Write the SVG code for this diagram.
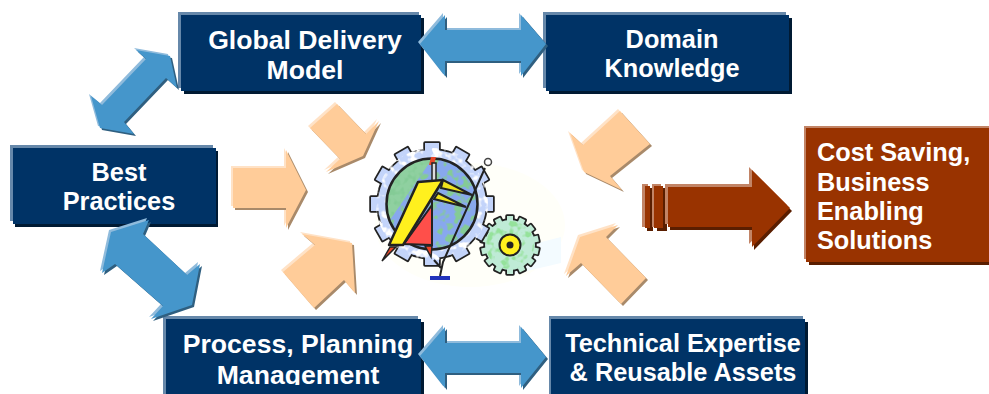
<svg xmlns="http://www.w3.org/2000/svg" xmlns:xlink="http://www.w3.org/1999/xlink" width="989" height="394" viewBox="0 0 989 394">
<style>
text{font-family:"Liberation Sans",Arial,sans-serif;font-weight:700;font-size:25.3px;fill:#fff}
.big{font-size:26.6px}
.m{text-anchor:middle}
.nl{fill:#6688AA}.nd{fill:#001A33}.nm{fill:#003366}
.rl{fill:#C28466}.rd{fill:#5A1E00}.rm{fill:#993300}
.bl{fill:#8FBBDC}.bd{fill:#2F5F80}.bm{fill:#4596CB}
.pl{fill:#FFE2C6}.pd{fill:#A98A6A}.pm{fill:#FFCC99}
.ln{fill:none;stroke:#222;stroke-width:2}
.ol{stroke:#222;stroke-width:3.5;stroke-linejoin:round}
</style>
<defs>
<polygon id="b1" points="136,50 170,56 177,88 166,78 124,122 134,134 100,128 91,96 102,105 146,59"/>
<polygon id="b2" points="149,220 111,232 102,273 115,264 163,306 151,319 192,305 200,264 187,275 143,234"/>
<polygon id="b3" points="420,44 445,15 445,30 521,30 521,15 546,44 521,76 521,61 445,61 445,76"/>
<polygon id="b4" points="420,356 445,327 445,343 521,343 521,327 546,357 521,388 521,373 445,373 445,388"/>
<polygon id="p1" points="233,168 286,168 286,150 306,190 286,228 286,208 233,208"/>
<polygon id="p2" points="337,104 366,134 379,121 363,156 326,172 340,159 310,128"/>
<polygon id="p3" points="302,234 352,243 355,293 344,280 314,308 283,272 315,245"/>
<polygon id="p4" points="620,111 650,144 610,176 622,190 584,172 570,133 583,145"/>
<polygon id="p5" points="618,225 580,237 566,276 581,263 621,304 646,278 606,237"/>
<polygon id="r0" points="668,187 752,187 752,170 790,208 752,247 752,227 668,227"/>
<g id="bigTeeth">
<rect x="-7" y="-61" width="14" height="16"/>
<rect x="-7" y="-61" width="14" height="16" transform="rotate(30)"/>
<rect x="-7" y="-61" width="14" height="16" transform="rotate(60)"/>
<rect x="-7" y="-61" width="14" height="16" transform="rotate(90)"/>
<rect x="-7" y="-61" width="14" height="16" transform="rotate(120)"/>
<rect x="-7" y="-61" width="14" height="16" transform="rotate(150)"/>
<rect x="-7" y="-61" width="14" height="16" transform="rotate(180)"/>
<rect x="-7" y="-61" width="14" height="16" transform="rotate(210)"/>
<rect x="-7" y="-61" width="14" height="16" transform="rotate(240)"/>
<rect x="-7" y="-61" width="14" height="16" transform="rotate(270)"/>
<rect x="-7" y="-61" width="14" height="16" transform="rotate(300)"/>
<rect x="-7" y="-61" width="14" height="16" transform="rotate(330)"/>
<circle r="54"/>
</g>
<g id="smallTeeth">
<rect x="-3" y="-29" width="6" height="8"/>
<rect x="-3" y="-29" width="6" height="8" transform="rotate(25.7)"/>
<rect x="-3" y="-29" width="6" height="8" transform="rotate(51.4)"/>
<rect x="-3" y="-29" width="6" height="8" transform="rotate(77.1)"/>
<rect x="-3" y="-29" width="6" height="8" transform="rotate(102.9)"/>
<rect x="-3" y="-29" width="6" height="8" transform="rotate(128.6)"/>
<rect x="-3" y="-29" width="6" height="8" transform="rotate(154.3)"/>
<rect x="-3" y="-29" width="6" height="8" transform="rotate(180)"/>
<rect x="-3" y="-29" width="6" height="8" transform="rotate(205.7)"/>
<rect x="-3" y="-29" width="6" height="8" transform="rotate(231.4)"/>
<rect x="-3" y="-29" width="6" height="8" transform="rotate(257.1)"/>
<rect x="-3" y="-29" width="6" height="8" transform="rotate(282.9)"/>
<rect x="-3" y="-29" width="6" height="8" transform="rotate(308.6)"/>
<rect x="-3" y="-29" width="6" height="8" transform="rotate(334.3)"/>
<circle r="25"/>
</g>
<filter id="mottle" x="0" y="0" width="100%" height="100%">
<feTurbulence type="fractalNoise" baseFrequency="0.13" numOctaves="2" seed="4"/>
<feColorMatrix type="matrix" values="0 0 0 0 0 0 0 0 0 0 0 0 0 0 0 6 0 0 0 -2.9"/>
<feComposite in="SourceGraphic" operator="in"/>
</filter>
<clipPath id="cutMgmt"><rect x="163" y="316" width="261" height="69"/></clipPath>
</defs>
<rect width="989" height="394" fill="#fff"/>
<g id="backdrop">
<ellipse cx="470" cy="225" rx="95" ry="62" fill="#FFFFF9"/>
<polygon points="510,250 561,237 561,263 510,275" fill="#F3FBFF"/>
</g>
<g id="gear">
<g transform="translate(510 245)">
<use xlink:href="#smallTeeth" class="ol" fill="#222"/>
<use xlink:href="#smallTeeth" fill="#BFEBD6"/>
<circle r="24" fill="#95E29B" filter="url(#mottle)"/>
<circle r="10.5" fill="#FFF01E" stroke="#222" stroke-width="2"/>
<circle r="3.5" fill="#222"/>
</g>
<g transform="translate(432 204)">
<use xlink:href="#bigTeeth" class="ol" fill="#222"/>
<use xlink:href="#bigTeeth" fill="#C3D4FA"/>
<circle r="56" fill="#fff" filter="url(#mottle)"/>
<circle r="45" fill="#88A8EE"/>
<path d="M0,-45A45,45 0 0 0 -42,16L0,-45Z" fill="#8FD0A0"/>
<circle r="45" fill="#84CB96" filter="url(#mottle)"/>
<circle r="45.5" fill="none" stroke="#222" stroke-width="2.5"/>
</g>
<polygon points="431,157 436,157 434,165 429,165" fill="#E8472A"/>
<rect x="432" y="163" width="4" height="19" fill="#ddd" stroke="#222" stroke-width="1.5"/>
<path class="ln" d="M432,200V246"/>
<polygon points="432,205 404,244 432,245" fill="#FF4F4A" stroke="#222" stroke-width="2"/>
<polygon points="390,247 382,261 396,247" fill="#E8472A" stroke="#222" stroke-width="1.5"/>
<polygon points="425,246 431,257 432,246" fill="#E8472A" stroke="#222" stroke-width="1.5"/>
<polygon points="418,182 443,180 403,245 389,245" fill="#FFF01E" stroke="#222" stroke-width="2.5" stroke-linejoin="round"/>
<polygon points="443,180 472,195 441,188" fill="#EFE21E" stroke="#222" stroke-width="2"/>
<polygon points="438,193 466,207 434,199" fill="#EFE21E" stroke="#222" stroke-width="2"/>
<path class="ln" d="M485,168L443,262L440,276"/>
<path class="ln" d="M434,260L441,268"/>
<circle cx="488" cy="162" r="3.5" fill="#fff" stroke="#444" stroke-width="1.5"/>
<rect x="430" y="276" width="20" height="4" fill="#2233BB"/>
</g>
<g id="node-global">
<rect x="178" y="12" width="241" height="76" class="nl"/><rect x="184" y="18" width="240" height="76" class="nd"/><rect x="181" y="15" width="240" height="76" class="nm"/>
<text x="305" y="49" class="m big">Global Delivery</text><text x="305" y="79" class="m big">Model</text>
</g>
<g id="node-domain">
<rect x="543" y="12" width="243" height="76" class="nl"/><rect x="549" y="18" width="243" height="76" class="nd"/><rect x="546" y="15" width="243" height="76" class="nm"/>
<text x="672" y="48" class="m">Domain</text><text x="672" y="77" class="m">Knowledge</text>
</g>
<g id="node-best">
<rect x="10" y="145" width="203" height="76" class="nl"/><rect x="15" y="151" width="203" height="76" class="nd"/><rect x="13" y="148" width="203" height="76" class="nm"/>
<text x="119" y="181" class="m">Best</text><text x="119" y="210" class="m">Practices</text>
</g>
<g id="node-process">
<rect x="163" y="316" width="255" height="78" class="nl"/><rect x="169" y="322" width="255" height="72" class="nd"/><rect x="166" y="319" width="255" height="75" class="nm"/>
<g clip-path="url(#cutMgmt)"><text x="298" y="353" class="m big">Process, Planning</text><text x="298" y="384" class="m big">Management</text></g>
</g>
<g id="node-technical">
<rect x="549" y="316" width="254" height="78" class="nl"/><rect x="554" y="322" width="254" height="72" class="nd"/><rect x="551" y="319" width="254" height="75" class="nm"/>
<text x="683" y="352" class="m">Technical Expertise</text><text x="683" y="381" class="m">&amp; Reusable Assets</text>
</g>
<g id="node-cost">
<rect x="804" y="126" width="185" height="133" class="rl"/><rect x="809" y="132" width="180" height="133" class="rd"/><rect x="806" y="128" width="183" height="134" class="rm"/>
<text x="817" y="161">Cost Saving,</text><text x="817" y="190.5">Business</text><text x="817" y="220">Enabling</text><text x="817" y="249">Solutions</text>
</g>
<g id="connectors">
<use xlink:href="#b1" class="bl" x="-2" y="-2"/><use xlink:href="#b1" class="bd" x="2" y="2"/><use xlink:href="#b1" class="bm"/>
<use xlink:href="#b2" class="bl" x="-2" y="-2"/><use xlink:href="#b2" class="bd" x="2" y="2"/><use xlink:href="#b2" class="bm"/>
<use xlink:href="#b3" class="bl" x="-2" y="-2"/><use xlink:href="#b3" class="bd" x="2" y="2"/><use xlink:href="#b3" class="bm"/>
<use xlink:href="#b4" class="bl" x="-2" y="-2"/><use xlink:href="#b4" class="bd" x="2" y="2"/><use xlink:href="#b4" class="bm"/>
<use xlink:href="#p1" class="pl" x="-2" y="-2"/><use xlink:href="#p1" class="pd" x="2" y="2"/><use xlink:href="#p1" class="pm"/>
<use xlink:href="#p2" class="pl" x="-2" y="-2"/><use xlink:href="#p2" class="pd" x="2" y="2"/><use xlink:href="#p2" class="pm"/>
<use xlink:href="#p3" class="pl" x="-2" y="-2"/><use xlink:href="#p3" class="pd" x="2" y="2"/><use xlink:href="#p3" class="pm"/>
<use xlink:href="#p4" class="pl" x="-2" y="-2"/><use xlink:href="#p4" class="pd" x="2" y="2"/><use xlink:href="#p4" class="pm"/>
<use xlink:href="#p5" class="pl" x="-2" y="-2"/><use xlink:href="#p5" class="pd" x="2" y="2"/><use xlink:href="#p5" class="pm"/>
<g id="result-arrow">
<rect x="642" y="184" width="6" height="43" class="rl"/><rect x="647" y="188" width="6" height="43" class="rd"/><rect x="645" y="186" width="5" height="42" class="rm"/>
<rect x="652" y="184" width="9" height="43" class="rl"/><rect x="657" y="188" width="10" height="43" class="rd"/><rect x="654" y="186" width="9" height="42" class="rm"/>
<use xlink:href="#r0" class="rl" x="-3" y="-3"/><use xlink:href="#r0" class="rd" x="2" y="3"/><use xlink:href="#r0" class="rm"/>
</g>
</g>
</svg>
